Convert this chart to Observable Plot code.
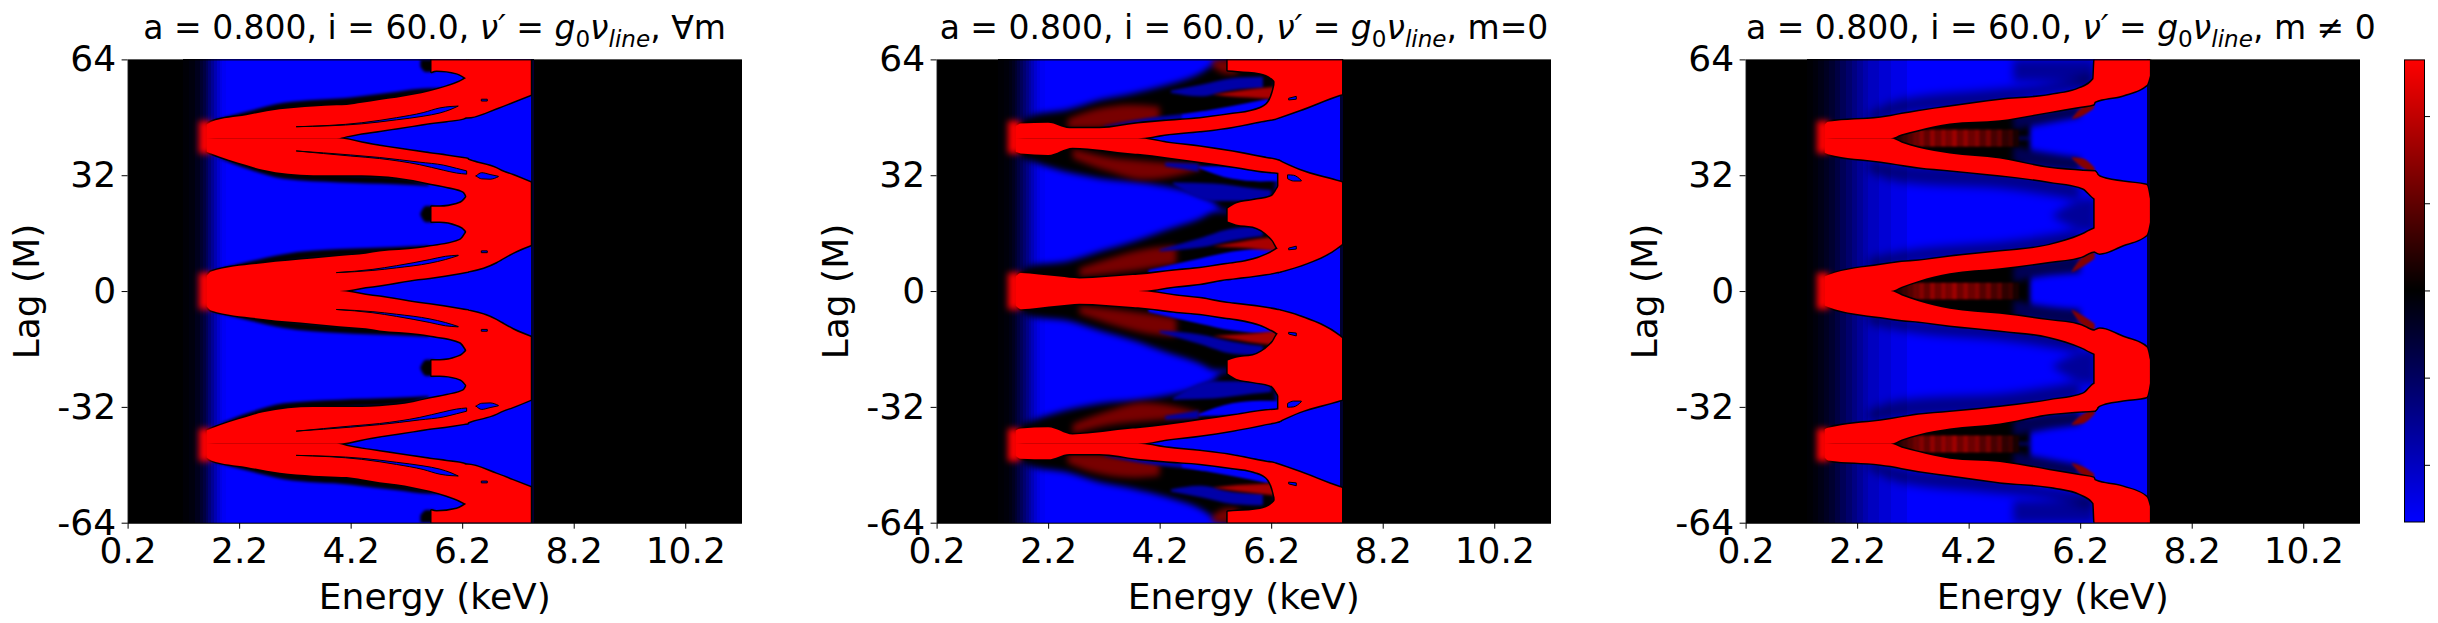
<!DOCTYPE html>
<html>
<head>
<meta charset="utf-8">
<script src="https://cdn.jsdelivr.net/npm/d3@7"></script>
<script src="https://cdn.jsdelivr.net/npm/@observablehq/plot@0.6"></script>
<style>
  body { margin: 0; background: #fff; font-family: "DejaVu Sans", sans-serif; }
  #page { position: relative; width: 2438px; height: 623px; overflow: hidden; }
  #page svg { position: absolute; top: 0; background: transparent; }
  .title { position: absolute; top: 6px; width: 614px; text-align: center; font-size: 33px; line-height: 44px; white-space: nowrap; color: #000; }
  .title sub { font-size: 70%; line-height: 0; }
</style>
</head>
<body>
<div id="page"></div>
<script>
const energyTicks = [0.2, 2.2, 4.2, 6.2, 8.2, 10.2];
const lagTicks = [-64, -32, 0, 32, 64];
const barTicks = [-0.8, -0.4, 0, 0.4, 0.8];
const vmax = 1.06;
const panelLefts = [127.6, 937, 1746];

// every band below is [energy keV, lag low, lag high] for the upper half, the maps mirror about lag 0

// panel 1, all m
const fullBlueEdges = [1.2, 1.3, 1.4, 1.5, 1.55, 1.6, 1.65, 1.7, 1.75, 1.8, 1.85, 1.9, 1.97, 7.43, 7.49];
const fullBlueValues = [-0.03, -0.06, -0.12, -0.2, -0.28, -0.38, -0.5, -0.62, -0.74, -0.86, -0.96, -1.02, -1.06, -0.2];
const fullArmA = [[1.62,0,4.2],[1.7,0,5.4],[2.63,0,7.7],[3.53,0,9],[4,0,9.7],[4.47,1.1,10.3],[4.72,1.6,10.9],[5.41,3.3,11.8],[5.62,3.7,12.3],[6.16,5,14.1],[6.3,5.4,17]];
const fullArmB = [[1.62,38.5,42.2],[1.7,38,42.2],[2.33,34.8,42.2],[2.63,33.5,42.2],[3.53,32,42.2],[3.95,32,42.2],[4.4,32,41],[4.72,31.8,40.1],[5.02,31.4,39.4],[5.32,30.7,38.7],[5.62,29.7,38],[5.92,28.8,37.4],[6.22,27.5,36.7],[6.3,25.5,36.5]];
const fullArmC = [[1.62,42.2,46],[1.7,42.2,46.8],[2.33,42.2,48.6],[2.93,42.2,50.2],[3.53,42.2,51],[3.95,42.2,51.3],[4.13,42.8,51.4],[4.4,43.6,52],[4.72,44.3,52.8],[5.02,45,53.4],[5.32,45.7,54.2],[5.62,46.4,55.2],[5.92,47,56.5],[6.22,47.7,58.4],[6.28,48,59],[6.29,48,64],[6.81,50.5,64],[7.11,52.3,64],[7.43,54.2,64]];
const fullBlock = [[6.28,5.4,36.4],[6.35,5.6,36],[6.81,8,33.9],[6.9,8.8,33.2],[7.11,10.6,32],[7.43,12.7,30]];
const fullTongue = [[5.65,19.2,23.3],[5.8,19.2,23.3],[6.1,18.3,24],[6.2,17.6,24.7],[6.3,16,26.5]];
const fullTopTongue = [[5.65,60.6,64],[5.74,60.9,64],[6.1,60.2,64],[6.3,58.5,64]];
const fullTips = [[[1.48,38,47],[1.7,38,47]], [[1.48,0,5],[1.7,0,5.2]]];
const fullEdges = [
  [[1.7,47,47],[2.4,48,49.8],[3,50,52],[4.2,51,53.5],[5,53,55],[5.6,55,56],[6,56,56]],
  [[1.8,37,37],[2.4,33.5,35],[3,31,33.5],[4,30,32.2],[5,29.5,31.5],[5.6,29,29.5]],
  [[1.7,5.5,5.5],[2.4,6,8.2],[3,8,10.2],[4,9.5,11.6],[5,10.5,12.2],[5.6,12,12.6]],
  [[5.45,21,21.5],[5.55,19,23.5],[5.7,19,23.5]],
  [[5.45,62,64],[5.55,60.5,64],[5.7,60.5,64]]
];
const fullHoles = [
  [[3.23,45.4,45.4],[4.4,46.2,46.5],[5.02,47.3,47.9],[5.5,48.3,49.3],[5.8,49.2,50.6],[6,50.2,51],[6.13,51.1,51.1]],
  [[3.23,38.7,38.7],[4.2,37.3,37.6],[4.72,36.6,36.9],[5.44,34.9,35.6],[5.86,33.4,34.8],[6.1,32.6,33.9],[6.28,32.3,33.2]],
  [[6.45,31.8,31.8],[6.55,31,32.7],[6.7,30.9,32.2],[6.85,31.6,31.7]],
  [[3.95,5.1,5.1],[4.6,5.7,6],[5.02,6.4,7],[5.62,7.7,8.7],[5.9,8.7,9.6],[6.13,9.8,9.9]],
  [[6.55,10.6,11.1],[6.65,10.6,11.1]],
  [[6.55,52.5,53],[6.65,52.5,53]]
];

// panel 2, m = 0
const zeroBlueEdges = [1.3, 1.4, 1.5, 1.55, 1.6, 1.65, 1.7, 1.75, 1.8, 1.85, 1.9, 1.95, 2.0, 2.05, 2.15, 7.43, 7.49];
const zeroBlueValues = [-0.02, -0.04, -0.08, -0.13, -0.2, -0.28, -0.37, -0.47, -0.57, -0.67, -0.77, -0.87, -0.95, -1.02, -1.06, -0.2];
const zeroEnvelopes = [
  [[1.7,42,47],[1.93,42,48.6],[2.52,42,50],[3.12,42,52.8],[3.72,42,54.6],[4.32,42,56.9],[4.92,42,60.1],[5.27,42,63.4],[5.4,42,64],[6.3,42,64]],
  [[1.7,37,42],[1.93,35.7,42],[2.29,33.9,42],[3.12,31.1,42],[4,29.7,42],[5.16,24.7,42],[5.27,22.8,42],[5.42,22,42],[6.3,22,42]],
  [[1.7,0,5.5],[1.93,0,7.2],[2.52,0,8.1],[3.12,0,10.9],[3.72,0,13.6],[4.32,0,16.9],[4.92,0,20],[5.2,0,21.9],[5.42,0,22],[6.3,0,22]]
];
const zeroWedges = [
  [[3.81,42.2,42.2],[4.32,41,43.3],[4.92,39.9,44.2],[5.51,38.5,45.4],[6.11,36.7,47.2],[6.71,33.4,50],[7.43,30.2,54.2]],
  [[3.81,0,0.1],[4.5,0,1.3],[5.4,0,3.3],[6.15,0,4.8],[6.33,0,5.3],[6.71,0,7],[7.43,0,12.5]]
];
const zeroSmears = [
  [[2.55,45,47.5],[3,45,50],[3.7,46,51.5],[4.2,47,51]],
  [[2.64,36.7,39.4],[3.3,33,37],[3.9,30.8,36],[4.67,32.5,35],[4.95,33.8,34.6]],
  [[2.76,4,6.3],[3.4,5,9.5],[4.1,6.5,12],[4.5,7.5,12.5]],
  [[5.15,62,64],[5.42,60,64],[5.6,60,64]]
];
const zeroInnerReds = [
  [[5.15,54.3,54.3],[5.6,53.6,55.3],[6,53.3,56],[6.3,53,56.5]],
  [[5.15,12.4,12.4],[5.6,12,13.5],[6,11.5,14.5],[6.3,11,15]]
];
const zeroDimPockets = [
  [[3.2,45.3,45.6],[4,46.5,47.8],[5,47.5,49.5]],
  [[4.4,54.8,55.4],[4.92,53.8,56.9],[5.51,55.5,58.8],[6.05,56,59.2]],
  [[4.3,34.5,35.5],[4.9,33,35.2]],
  [[4.44,29.5,30],[5.16,24.9,29.7],[5.87,24.9,28.4],[6.2,26,27.9]],
  [[4.2,11,11.5],[4.92,12,14.6],[5.51,14,17.3],[6.05,15.2,17.8]]
];
const zeroBrightPockets = [
  [[4.6,47.5,48.7],[5.2,48,50.3],[5.8,49.6,52],[6.15,51.5,53.2]],
  [[4.9,34,34.5],[5.5,31,34.4],[6,30.3,33.2],[6.47,30.4,32.5]],
  [[4,4.4,5.8],[4.92,6.3,9],[5.51,7.6,10.9],[6.23,10.5,11.8],[6.32,11.8,11.8]]
];
const zeroArmA = [[1.62,0,4],[1.71,0,5],[2.03,0,4.6],[2.4,0,4],[2.76,0,3.5],[3.72,0,4.4],[3.81,0,4.5],[4.5,1.3,5.7],[4.92,2,6.3],[5.4,3.3,7.4],[5.51,3.5,7.6],[6.11,4.7,10],[6.32,5.3,11.8],[6.38,5.6,12.5]];
const zeroArmB = [[1.62,38.5,42.2],[1.71,38,42.2],[2.2,37.6,42.2],[2.64,39.6,42.2],[3.72,38,42.2],[3.81,37.9,42.2],[4.32,37,41],[4.92,35.7,39.9],[5.51,34.4,38.5],[6.11,33,36.7],[6.33,32.7,36],[6.38,32.5,35.6]];
const zeroArmC = [[1.62,42.2,45.5],[1.71,42.2,46.3],[2.2,42.2,46.5],[2.58,42.2,45],[3.12,42.2,45],[3.81,42.2,46.3],[4.32,43.3,47],[4.92,44.2,47.7],[5.51,45.4,48.9],[5.81,46.3,49.6],[6.11,47.2,51.5],[6.26,47.6,57],[6.28,47.7,64],[6.71,50,64],[7.43,54.2,64],[7.47,54.4,64]];
const zeroBlock = [[6.33,5.3,36],[6.71,7,33.4],[7.43,12.5,30.2],[7.47,13,30]];
const zeroTongue = [[5.42,19.2,22.8],[5.57,18.4,24.2],[5.87,17.8,25.1],[6.17,15,26],[6.23,14,26.5],[6.32,11.8,28.6],[6.47,11,32]];
const zeroTopTongue = [[5.42,61,64],[5.6,60.8,64],[6,60.2,64],[6.26,58,64],[6.3,54,64]];
const zeroTips = [[[1.48,38,47],[1.7,38,47]], [[1.48,0,5],[1.7,0,5.2]]];
const zeroHoles = [
  [[6.5,31,32.1],[6.6,30.4,32],[6.74,30.4,30.6]],
  [[6.52,11.4,11.9],[6.65,11.6,12.4]],
  [[6.52,52.8,53.3],[6.65,53,53.8]]
];

// panel 3, m != 0
const restBlueEdges = [1.3, 1.4, 1.5, 1.6, 1.7, 1.8, 1.9, 2, 2.1, 2.2, 2.3, 2.4, 2.6, 2.8, 3.1, 7.39, 7.45];
const restBlueValues = [-0.02, -0.05, -0.09, -0.14, -0.2, -0.28, -0.36, -0.45, -0.54, -0.63, -0.72, -0.8, -0.88, -0.96, -1.06, -0.2];
const restEnvelopes = [
  [[2.7,38,42.2],[3,36,42.2],[5.05,34.5,42.2],[5.3,37,42.2]],
  [[2.7,42.2,46.5],[3,42.2,47.5],[5.05,42.2,49],[5.3,42.2,47]],
  [[2.7,0,4],[3,0,6],[5.05,0,8],[5.3,0,5]]
];
const restNavy = [
  [[5,44.5,49],[5.5,46,50],[6.2,48,51.5]],
  [[5,35.5,40],[5.5,34,38.5],[6.2,33,37]],
  [[5,2.5,7],[5.5,4,8.5],[6.2,5,10]]
];
const restShades = [
  [[2.4,47,49],[3,49,53],[4.5,51,55.5],[5.5,54,57],[6.4,56,60]],
  [[2.4,33,36],[3,30,35],[5,28,33],[6.2,25,29.5]],
  [[2.4,6,9],[3,7.5,11],[5,10,14],[6.2,12,17]]
];
const restChevrons = [[[5.7,20.5,21],[6.1,17.5,24.5],[6.48,16,26]], [[5,58,64],[6,58,64],[6.46,57,64]]];
const restStripeEdges = [2.9, 3, 3.1, 3.2, 3.3, 3.4, 3.5, 3.6, 3.7, 3.8, 3.9, 4, 4.1, 4.2, 4.3, 4.4, 4.5, 4.6, 4.7, 4.8, 4.9, 5, 5.1];
const restStripeValues = [0.15, 0.25, 0.35, 0.45, 0.55, 0.4, 0.6, 0.45, 0.6, 0.5, 0.65, 0.45, 0.6, 0.45, 0.55, 0.35, 0.5, 0.3, 0.4, 0.2, 0.25, 0.1];
const restStripeLags = [[39.9, 44.6], [-2.3, 2.3], [-44.6, -39.9]];
const restBits = [
  [[6.05,47.5,47.7],[6.25,48.5,51],[6.45,50.5,52]],
  [[6.05,36.7,37],[6.25,34,36.6],[6.46,32.5,34]],
  [[6.05,5.2,5.5],[6.25,6.8,9.6],[6.46,9,11]]
];
const restArmA = [[1.62,0,4],[1.68,0,4.4],[2.62,0,7.2],[2.8,0,7.6],[3,1.2,8],[3.3,2.8,8.4],[3.86,4.9,9.5],[4.76,6.3,10.9],[5.65,8.1,12.7],[6.22,9.5,15.5],[6.46,11,17.3],[6.5,11,17.5]];
const restArmB = [[1.62,38.2,42.2],[1.68,37.8,42.2],[2.62,35.8,42.2],[2.8,35.4,42.2],[3,34.9,41],[3.3,34.2,39.6],[3.86,33.4,38],[4.76,32,36.6],[5.65,30.2,34],[6.25,28.4,33.2],[6.46,25.6,33],[6.5,25.4,32.4]];
const restArmC = [[1.62,42.2,46],[1.68,42.2,46.8],[2.62,42.2,47.9],[2.8,42.2,48.3],[3,43.3,48.9],[3.3,44.5,49.7],[3.86,46.3,50.9],[4.76,47.2,52.8],[5.65,49.5,54.1],[6.19,50.9,56],[6.44,51.6,58.6],[6.46,52.3,64],[6.97,54.1,64],[7.39,56.9,64],[7.45,59.5,64]];
const restBlock = [[6.46,11,33],[6.55,10.4,31.6],[6.97,12.7,30.2],[7.39,15.5,29.3],[7.45,19,25.5]];
const restTips = [[[1.48,38,47],[1.7,38,47]], [[1.48,0,5],[1.7,0,5]]];

const mirrored = rows => [
  ...rows.map(([e, lo, hi]) => ({e, lo, hi, side: "up"})),
  ...rows.map(([e, lo, hi]) => ({e, lo: -hi, hi: -lo, side: "down"}))
];
const areaOf = (rows, options) => Plot.areaY(mirrored(rows), {x: "e", y1: "lo", y2: "hi", z: "side", curve: "monotone-x", clip: true, ...options});
const soft = (rows, v, blur) => areaOf(rows, {fill: () => v, imageFilter: `blur(${blur}px)`});
const shade = (rows, opacity, blur) => areaOf(rows, {fill: () => 0, fillOpacity: opacity, imageFilter: `blur(${blur}px)`});
const halo = rows => areaOf(rows, {fill: "none", stroke: "black", strokeWidth: 3, imageFilter: "blur(0.7px)"});
const solid = rows => areaOf(rows, {fill: () => vmax});
const hole = rows => areaOf(rows, {fill: () => -vmax, stroke: "black", strokeWidth: 1});
const blue = (edges, values) => Plot.rect(values, {
  x1: (d, i) => edges[i], x2: (d, i) => edges[i + 1], y1: () => -64, y2: () => 64,
  fill: d => d, shapeRendering: "crispEdges"
});
const stripes = (edges, values, [lo, hi]) => Plot.rect(values, {
  x1: (d, i) => edges[i], x2: (d, i) => edges[i + 1], y1: () => lo, y2: () => hi,
  fill: d => d, imageFilter: "blur(1.2px)"
});

const colorScale = {type: "linear", domain: [-vmax, 0, vmax], range: ["#0000ff", "#000000", "#ff0000"]};

function panel(left, title, marks) {
  const chart = Plot.plot({
    width: 613.4 + 127.6 + 30,
    height: 623,
    marginLeft: 127.6,
    marginRight: 30,
    marginTop: 59.4,
    marginBottom: 100.3,
    color: colorScale,
    x: {domain: [0.2, 11.2], ticks: energyTicks, tickFormat: d => d.toFixed(1), tickSize: 6, tickPadding: 8, label: "Energy (keV)", labelAnchor: "center", labelOffset: 86, labelArrow: "none"},
    y: {domain: [-64, 64], ticks: lagTicks, tickFormat: d => String(d), tickSize: 6, tickPadding: 6, label: "Lag (M)", labelAnchor: "center", labelOffset: 115, labelArrow: "none"},
    style: {fontSize: "36px", fontFamily: "DejaVu Sans", color: "#000", background: "transparent"},
    marks: [
      Plot.frame({fill: "#000"}),
      ...marks,
      Plot.frame({stroke: "#000", strokeWidth: 1})
    ]
  });
  chart.style.left = (left - 127.6) + "px";
  const page = document.getElementById("page");
  page.append(chart);
  const head = document.createElement("div");
  head.className = "title";
  head.style.left = left + "px";
  head.innerHTML = title;
  page.append(head);
}

const lineText = `<i>&nu;&prime;</i> = <i>g</i><sub>0</sub><i>&nu;<sub>line</sub></i>`;

const fullReds = [fullArmA, fullArmB, fullArmC, fullBlock, fullTongue, fullTopTongue];
panel(panelLefts[0], `a = 0.800, i = 60.0, ${lineText}, &forall;m`, [
  blue(fullBlueEdges, fullBlueValues),
  ...fullEdges.map(r => soft(r, 0, 1.8)),
  ...fullReds.map(halo),
  ...fullTips.map(r => soft(r, vmax, 3)),
  ...fullReds.map(solid),
  ...fullHoles.map(hole)
]);

const zeroReds = [zeroArmA, zeroArmB, zeroArmC, zeroBlock, zeroTongue, zeroTopTongue];
panel(panelLefts[1], `a = 0.800, i = 60.0, ${lineText}, m=0`, [
  blue(zeroBlueEdges, zeroBlueValues),
  ...zeroEnvelopes.map(r => soft(r, 0, 3)),
  ...zeroWedges.map(r => areaOf(r, {fill: () => -vmax})),
  ...zeroSmears.map(r => soft(r, 0.5, 3)),
  ...zeroDimPockets.map(r => soft(r, -0.7, 1.5)),
  ...zeroBrightPockets.map(r => soft(r, -vmax, 1.2)),
  ...zeroInnerReds.map(r => soft(r, 0.7, 1.5)),
  ...zeroReds.map(halo),
  ...zeroTips.map(r => soft(r, vmax, 3)),
  ...zeroReds.map(solid),
  ...zeroHoles.map(hole)
]);

const restReds = [restArmA, restArmB, restArmC, restBlock];
panel(panelLefts[2], `a = 0.800, i = 60.0, ${lineText}, m &ne; 0`, [
  blue(restBlueEdges, restBlueValues),
  ...restShades.map(r => shade(r, 0.45, 5)),
  ...restChevrons.map(r => shade(r, 0.4, 4)),
  ...restEnvelopes.map(r => soft(r, 0, 2.5)),
  ...restNavy.map(r => soft(r, -0.35, 3)),
  ...restStripeLags.map(l => stripes(restStripeEdges, restStripeValues, l)),
  ...restBits.map(r => soft(r, 0.55, 1)),
  ...restReds.map(halo),
  ...restTips.map(r => soft(r, vmax, 3)),
  ...restReds.map(solid)
]);

const bar = Plot.plot({
  width: 36,
  height: 623,
  marginLeft: 1,
  marginRight: 15,
  marginTop: 59.4,
  marginBottom: 101.5,
  color: colorScale,
  x: {domain: [0, 1], axis: null},
  y: {domain: [-vmax, vmax], axis: null},
  style: {background: "transparent"},
  marks: [
    Plot.raster({x1: 0, x2: 1, y1: -vmax, y2: vmax, fill: (x, y) => y, pixelSize: 1}),
    Plot.frame({stroke: "#000", strokeWidth: 1}),
    Plot.axisY({anchor: "right", ticks: barTicks, tickFormat: () => "", tickSize: 5, label: null})
  ]
});
bar.style.left = "2403px";
document.getElementById("page").append(bar);
</script>
</body>
</html>
